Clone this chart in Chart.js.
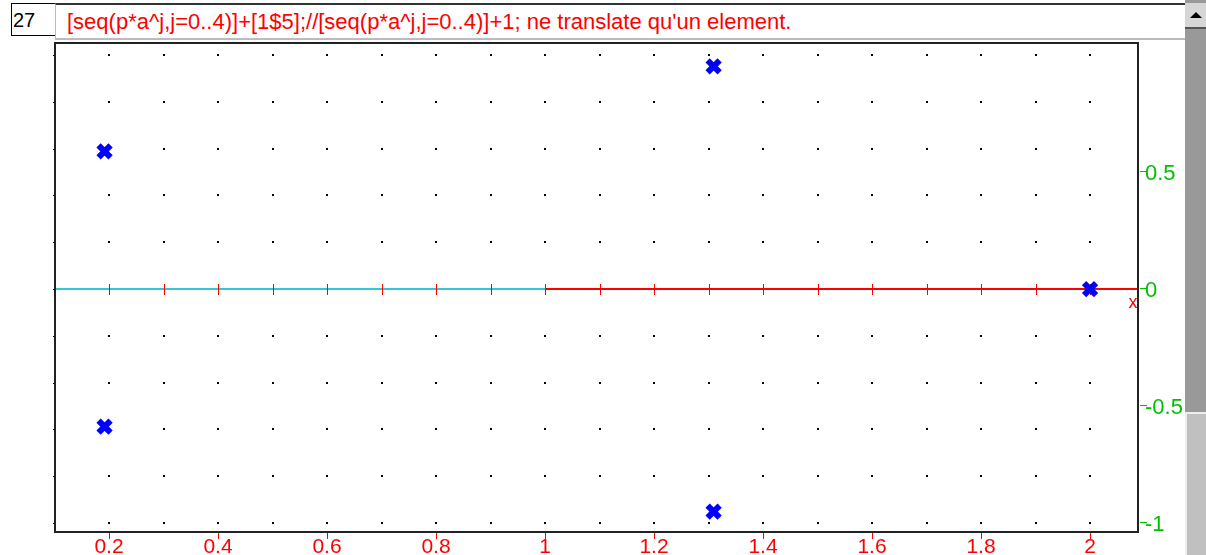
<!DOCTYPE html>
<html lang="fr">
<head>
  <meta charset="UTF-8" />
  <title>Xcas 27</title>
  <style>
    body { margin: 0; background: #fff; width: 1206px; height: 555px; overflow: hidden; position: relative; font-family: 'Liberation Sans', Arial, sans-serif; }
    #num { position: absolute; left: 11px; top: 3px; width: 42px; height: 31px; border: 1px solid #000; font-size: 20px; line-height: 32px; padding-left: 1px; box-sizing: content-box; }
    #cmd { position: absolute; left: 55px; top: 3px; width: 1130px; height: 37px; border-top: 2px solid #333; border-left: 1px solid #bbb; border-bottom: 2px solid #bbb; color: #f00; font-size: 22px; line-height: 34px; padding-left: 11px; box-sizing: border-box; white-space: nowrap; }
    #scroll { position: absolute; left: 1185px; top: 0; width: 21px; height: 555px; background: #999; }
    #up { position: absolute; left: 0; top: 3px; width: 21px; height: 24px; background: #d6d6d6; border-bottom: 2px solid #555; }
    #up:after { content: ''; position: absolute; left: 5px; top: 9px; border-left: 6px solid transparent; border-right: 6px solid transparent; border-bottom: 6px solid #000; }
    #low { position: absolute; left: 0; top: 412px; width: 21px; height: 143px; background: #c0c0c0; border-left: 2px solid #eee; border-top: 2px solid #eee; box-sizing: border-box; }
    #wrap { position: absolute; left: 0; top: 40px; width: 1185px; height: 515px; }
  </style>
</head>
<body>
  <div id="num">27</div>
  <div id="cmd">[seq(p*a^j,j=0..4)]+[1$5];//[seq(p*a^j,j=0..4)]+1; ne translate qu'un element.</div>
  <div id="scroll"><div id="up"></div><div id="low"></div></div>
  <div id="wrap"><canvas id="plot"></canvas></div>

  <script src="https://cdn.jsdelivr.net/npm/chart.js"></script>
  <script>
    // the five points 1 + exp(2*i*pi*k/5)
    const xValues = [2, 1.309, 0.191, 0.191, 1.309];
    const yValues = [0, 0.951, 0.588, -0.588, -0.951];
    const xTickLabels = ['0.2', '0.4', '0.6', '0.8', '1', '1.2', '1.4', '1.6', '1.8', '2'];
    const yTickLabels = ['0.5', '0', '-0.5', '-1'];

    const points = xValues.map((x, i) => ({ x: x, y: yValues[i] }));

    const xcasFrame = {
      id: 'xcasFrame',
      beforeDatasetsDraw(chart) {
        const c = chart.ctx, a = chart.chartArea;
        const xs = chart.scales.x, ys = chart.scales.y;
        c.save();
        // grid dots
        c.fillStyle = '#000';
        for (let i = 2; i <= 20; i++) {
          for (let j = -5; j <= 5; j++) {
            const px = Math.round(xs.getPixelForValue(i / 10));
            const py = Math.round(ys.getPixelForValue(j / 5));
            c.fillRect(px - 1, py - 1, 2, 2);
          }
        }
        // small marks on left border
        for (let j = -5; j <= 5; j++) {
          const py = Math.round(ys.getPixelForValue(j / 5));
          c.fillRect(a.left - 2, py, 2, 1);
        }
        // x axis line
        const y0 = Math.round(ys.getPixelForValue(0));
        const x1 = xs.getPixelForValue(1);
        c.fillStyle = '#30c8d8';
        c.fillRect(a.left, y0 - 1, x1 - a.left, 2);
        c.fillStyle = '#f00';
        c.fillRect(x1, y0 - 1, a.right - x1, 2);
        for (let i = 2; i <= 20; i++) {
          const px = Math.round(xs.getPixelForValue(i / 10));
          c.fillRect(px, y0 - 5, 1, 11);
        }
        c.font = '18px "Liberation Sans", Arial, sans-serif';
        c.textAlign = 'center';
        c.textBaseline = 'top';
        c.fillText('x', a.right - 5, y0 + 5);
        // frame
        c.strokeStyle = '#222';
        c.lineWidth = 2;
        c.strokeRect(a.left, a.top, a.right - a.left, a.bottom - a.top);
        // bottom labels
        c.fillStyle = '#f00';
        c.font = '21px "Liberation Sans", Arial, sans-serif';
        xTickLabels.forEach(t => {
          const px = Math.round(xs.getPixelForValue(parseFloat(t)));
          c.fillRect(px, a.bottom + 1, 1, 6);
          c.fillText(t, px, a.bottom + 5);
        });
        // right labels
        c.fillStyle = '#00c000';
        c.font = '22px "Liberation Sans", Arial, sans-serif';
        c.textAlign = 'left';
        c.textBaseline = 'middle';
        yTickLabels.forEach(t => {
          const py = Math.round(ys.getPixelForValue(parseFloat(t)));
          c.fillRect(a.right + 2, py - 1, 7, 1);
          c.fillText(t, a.right + 7, py + 2);
        });
        c.restore();
      }
    };

    new Chart(document.getElementById('plot'), {
      type: 'scatter',
      data: {
        datasets: [{
          data: points,
          pointStyle: 'crossRot',
          pointRadius: 8.5,
          pointBorderWidth: 6,
          borderColor: '#0000ff',
          backgroundColor: '#0000ff'
        }]
      },
      options: {
        responsive: true,
        maintainAspectRatio: false,
        animation: false,
        layout: { autoPadding: false, padding: { left: 55, top: 3, right: 47, bottom: 23 } },
        plugins: { legend: { display: false }, tooltip: { enabled: false } },
        scales: {
          x: { type: 'linear', min: 0.1, max: 2.088, display: false },
          y: { type: 'linear', min: -1.038, max: 1.051, display: false }
        }
      },
      plugins: [xcasFrame]
    });
  </script>
</body>
</html>
